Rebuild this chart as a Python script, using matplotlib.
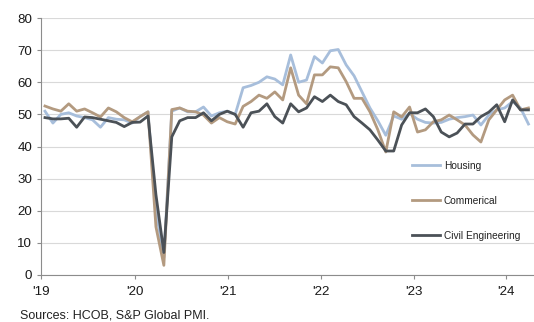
import numpy as np
import matplotlib.pyplot as plt

# monthly PMI readings, Jan 2019 onwards
housing = [51.0, 47.3, 50.0, 50.5, 49.5, 49.0, 48.3, 46.0, 49.0, 48.5, 48.3, 47.3,
           49.3, 50.8, 20.0, 5.5, 51.0, 52.0, 50.8, 50.8, 52.3, 49.5, 50.5, 51.0,
           50.0, 58.3, 59.0, 60.0, 61.7, 61.0, 59.2, 68.5, 60.0, 60.7, 68.0, 66.0,
           69.8, 70.2, 65.4, 62.0, 57.0, 52.0, 48.0, 43.5, 49.5, 48.5, 50.3, 48.5,
           47.5, 47.3, 47.5, 48.5, 49.0, 49.3, 49.8, 46.7, 49.8, 51.4, 52.0, 54.0,
           52.0, 47.0]
commercial = [52.6, 51.7, 51.0, 53.3, 51.0, 51.7, 50.5, 49.2, 52.0, 50.8, 49.0, 47.7,
              49.3, 50.8, 15.0, 3.0, 51.5, 52.0, 51.0, 50.8, 49.8, 47.3, 49.0, 47.7,
              47.0, 52.5, 54.0, 56.0, 55.0, 57.0, 54.5, 64.5, 56.0, 53.3, 62.3, 62.3,
              64.8, 64.5, 60.2, 55.0, 55.0, 50.8, 45.2, 38.3, 50.8, 49.2, 52.3, 44.5,
              45.2, 47.7, 48.3, 49.8, 48.3, 46.7, 43.6, 41.4, 48.3, 51.4, 54.5, 56.0,
              51.4, 52.0]
civil = [49.0, 48.6, 48.6, 48.8, 46.0, 49.2, 49.0, 48.5, 48.0, 47.5, 46.2, 47.5,
         47.6, 49.5, 25.0, 7.0, 43.0, 48.0, 49.0, 49.0, 50.5, 48.0, 50.0, 51.0,
         50.0, 46.0, 50.5, 51.0, 53.3, 49.3, 47.3, 53.3, 50.8, 52.0, 55.5, 54.0,
         56.0, 54.0, 53.0, 49.3, 47.3, 45.2, 42.0, 38.6, 38.6, 46.7, 50.5, 50.5,
         51.7, 49.3, 44.5, 43.0, 44.2, 47.0, 47.0, 49.3, 50.7, 53.0, 47.7, 54.5,
         51.4, 51.4]
year_labels = ["'19", "'20", "'21", "'22", "'23", "'24"]

months = np.arange(len(housing))

plt.rcParams['font.family'] = ['Liberation Sans', 'DejaVu Sans']

fig = plt.figure(figsize=(5.34, 3.22), dpi=100)
ax = fig.add_axes([0.0768, 0.146, 0.9232, 0.798])

ax.plot(months, housing, color='#a7bedb', lw=2.0, label='Housing')
ax.plot(months, commercial, color='#b39a80', lw=2.0, label='Commerical')
ax.plot(months, civil, color='#4b5157', lw=2.0, label='Civil Engineering')

ax.set_ylim(0, 80)
ax.set_yticks(range(0, 81, 10))
ax.set_xlim(-0.5, 61.7)
ax.set_xticks([-0.5, 11.36, 23.1, 34.85, 46.5, 58.2])
ax.set_xticklabels(year_labels)

ax.grid(axis='y', color='#d9d9d9', lw=0.8)
ax.set_axisbelow(True)
for s in ['top', 'right']:
    ax.spines[s].set_visible(False)
for s in ['left', 'bottom']:
    ax.spines[s].set_color('#8c8c8c')
    ax.spines[s].set_linewidth(0.8)
ax.tick_params(axis='both', colors='#8c8c8c', length=3, width=0.8,
               labelcolor='#1a1a1a', labelsize=9.6)
ax.tick_params(axis='x', pad=5)

leg = ax.legend(loc='upper left', bbox_to_anchor=(412 / 534, 1 - 161 / 322),
                bbox_transform=fig.transFigure, frameon=False, fontsize=7.3,
                handlelength=2.8, handletextpad=0.35, labelspacing=2.45,
                borderpad=0, borderaxespad=0)
for t in leg.get_texts():
    t.set_color('#222222')

fig.text(20 / 534, 1 - 316 / 322, 'Sources: HCOB, S&P Global PMI.',
         fontsize=9, color='#222222', va='center', ha='left')

fig.savefig('out.png', dpi=100)
